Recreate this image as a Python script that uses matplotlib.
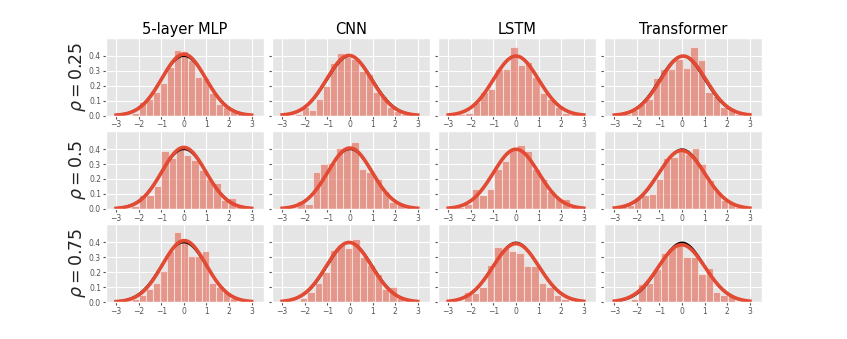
import numpy as np
import matplotlib
matplotlib.use("Agg")
import matplotlib.pyplot as plt

plt.style.use("ggplot")

models = ["5-layer MLP", "CNN", "LSTM", "Transformer"]
rhos = ["0.25", "0.5", "0.75"]

# histogram densities (left edge of first bin, bin width, heights)
h_025_mlp = [0.005, 0.02, 0.09, 0.11, 0.155, 0.22, 0.325, 0.44, 0.43, 0.37, 0.26, 0.25, 0.15, 0.08, 0.06, 0.03, 0.015, 0.005]
e_025_mlp = (-2.6, 0.31)
h_025_cnn = [0.005, 0.005, 0.005, 0.01, 0.06, 0.04, 0.11, 0.20, 0.35, 0.42, 0.39, 0.38, 0.30, 0.28, 0.16, 0.13, 0.06, 0.03, 0.01, 0.005, 0.005, 0.005]
e_025_cnn = (-3.34, 0.31)
h_025_lstm = [0.005, 0.01, 0.02, 0.09, 0.16, 0.175, 0.31, 0.31, 0.46, 0.34, 0.36, 0.26, 0.15, 0.11, 0.06, 0.02, 0.01, 0.005]
e_025_lstm = (-2.9, 0.33)
h_025_tf = [0.005, 0.01, 0.04, 0.075, 0.11, 0.25, 0.31, 0.31, 0.38, 0.32, 0.46, 0.37, 0.155, 0.13, 0.06, 0.05, 0.01, 0.005, 0.005]
e_025_tf = (-2.94, 0.33)

h_05_mlp = [0.005, 0.005, 0.02, 0.09, 0.095, 0.15, 0.39, 0.34, 0.405, 0.36, 0.33, 0.26, 0.20, 0.17, 0.06, 0.07, 0.03, 0.01]
e_05_mlp = (-2.98, 0.33)
h_05_cnn = [0.005, 0.005, 0.005, 0.05, 0.035, 0.25, 0.30, 0.31, 0.41, 0.41, 0.445, 0.27, 0.25, 0.20, 0.12, 0.045, 0.03, 0.01, 0.005, 0.005]
e_05_cnn = (-3.35, 0.34)
h_05_lstm = [0.005, 0.015, 0.03, 0.13, 0.09, 0.13, 0.27, 0.32, 0.41, 0.43, 0.39, 0.27, 0.20, 0.12, 0.07, 0.065, 0.02, 0.005]
e_05_lstm = (-2.97, 0.335)
h_05_tf = [0.02, 0.035, 0.025, 0.07, 0.09, 0.10, 0.20, 0.34, 0.35, 0.40, 0.37, 0.41, 0.30, 0.19, 0.12, 0.06, 0.04, 0.01, 0.005]
e_05_tf = (-3.08, 0.32)

h_075_mlp = [0.005, 0.02, 0.05, 0.09, 0.13, 0.21, 0.34, 0.47, 0.40, 0.31, 0.31, 0.34, 0.13, 0.10, 0.07, 0.03, 0.01, 0.005]
e_075_mlp = (-2.62, 0.31)
h_075_cnn = [0.005, 0.01, 0.03, 0.065, 0.13, 0.20, 0.35, 0.38, 0.36, 0.42, 0.30, 0.25, 0.19, 0.09, 0.10, 0.03, 0.02, 0.01]
e_075_cnn = (-2.87, 0.33)
h_075_lstm = [0.005, 0.0, 0.01, 0.07, 0.06, 0.10, 0.25, 0.37, 0.36, 0.34, 0.33, 0.24, 0.24, 0.13, 0.10, 0.05, 0.02, 0.01, 0.005]
e_075_lstm = (-3.28, 0.33)
h_075_tf = [0.005, 0.005, 0.02, 0.12, 0.13, 0.22, 0.33, 0.36, 0.38, 0.30, 0.30, 0.19, 0.23, 0.07, 0.05, 0.04, 0.01, 0.005]
e_075_tf = (-2.92, 0.33)

# fitted normal (mean, std) per row / column
fit_mu = [[0.0, -0.04, 0.0, 0.05],
          [0.0, 0.0, 0.0, -0.02],
          [0.02, -0.04, 0.0, -0.02]]
fit_sigma = [[0.97, 0.99, 1.0, 1.0],
             [0.97, 0.98, 1.0, 1.02],
             [0.97, 1.0, 1.02, 1.04]]

heights = [[h_025_mlp, h_025_cnn, h_025_lstm, h_025_tf],
           [h_05_mlp, h_05_cnn, h_05_lstm, h_05_tf],
           [h_075_mlp, h_075_cnn, h_075_lstm, h_075_tf]]
edges0 = [[e_025_mlp, e_025_cnn, e_025_lstm, e_025_tf],
          [e_05_mlp, e_05_cnn, e_05_lstm, e_05_tf],
          [e_075_mlp, e_075_cnn, e_075_lstm, e_075_tf]]


def npdf(x, mu, s):
    return np.exp(-0.5 * ((x - mu) / s) ** 2) / (s * np.sqrt(2 * np.pi))


fig, axes = plt.subplots(3, 4, figsize=(8.47, 3.39), dpi=100, sharey=True)
fig.subplots_adjust(left=0.125, right=0.9, top=0.888, bottom=0.109,
                    wspace=0.05, hspace=0.2)

xs = np.linspace(-3, 3, 300)
for r in range(3):
    for c in range(4):
        ax = axes[r, c]
        hts = np.array(heights[r][c])
        lo, w = edges0[r][c]
        lefts = lo + w * np.arange(len(hts))
        ax.bar(lefts, hts, width=w, align="edge", color="#E24A33",
               alpha=0.5, edgecolor="white", linewidth=0.8)
        ax.plot(xs, npdf(xs, 0, 1), color="black", lw=1.3)
        ax.plot(xs, npdf(xs, fit_mu[r][c], fit_sigma[r][c]),
                color="#E24A33", lw=2.6)
        ax.set_xlim(-3.45, 3.55)
        ax.set_ylim(0, 0.52)
        ax.set_xticks([-3, -2, -1, 0, 1, 2, 3])
        ax.set_yticks([0.0, 0.1, 0.2, 0.3, 0.4])
        ax.tick_params(labelsize=5.5, length=2, pad=1.5, colors="#555555")
        if r == 0:
            ax.set_title(models[c], fontsize=10.5, color="black", pad=3)
        if c == 0:
            ax.set_ylabel(r"$\rho = %s$" % rhos[r], fontsize=12.5,
                          color="#222222", labelpad=1)

fig.savefig("out.png", dpi=100)
